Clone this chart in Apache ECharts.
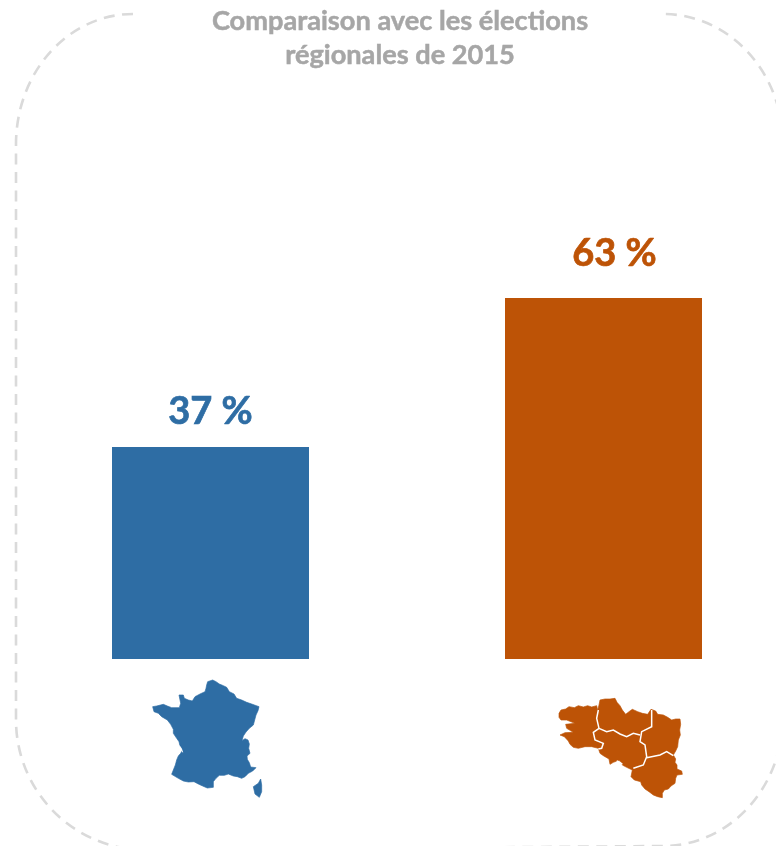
<!DOCTYPE html>
<html>
<head>
<meta charset="utf-8">
<style>html,body{margin:0;padding:0;background:#fff}#c{width:776px;height:846px}</style>
<script src="https://cdn.jsdelivr.net/npm/echarts@6/dist/echarts.min.js"></script>
</head>
<body>
<div id="c"></div>
<script>
const categories = ['France', 'Bretagne'];
const values = [37, 63];
const barColors = ['#2E6DA4', '#BD5306'];
const labelOffsets = [[0, 0], [11, -9]];
const titleText = 'Comparaison avec les élections\nrégionales de 2015';

const francePath = 'M230 45L233 35L248 30L258 35L268 42L280 47L290 52L298 65L312 72L320 85L335 90L350 97L365 102L387 110L384 122L378 135L374 150L370 165L358 175L348 186L340 198L336 212L345 206L354 210L358 222L356 235L360 250L351 258L352 268L358 278L362 291L378 293L368 303L355 310L345 320L335 325L322 320L310 318L295 312L283 316L268 316L258 325L250 335L250 352L232 354L218 348L205 342L192 335L175 336L160 333L145 325L125 313L130 300L136 285L140 270L145 258L152 250L158 240L150 228L147 215L140 205L130 190L130 178L122 163L112 150L95 140L85 130L72 125L68 110L80 108L100 103L112 108L125 113L148 113L152 100L147 75L160 75L163 85L175 90L187 93L195 80L210 72L225 65L228 55Z M392 327L395 345L395 365L388 382L375 372L370 350L385 340Z';
const girondePath = 'M147 226L153 234L158 247';
const bretagnePath = 'M42 85L48 75L62 72L72 65L88 68L100 62L115 66L128 62L140 66L155 62L158 76L162 60L165 45L180 42L195 42L210 40L216 52L225 62L232 75L242 88L252 80L262 73L278 80L292 85L308 88L318 73L332 78L338 88L355 90L368 97L380 105L392 102L405 102L407 118L404 135L406 150L400 165L398 185L392 198L385 210L392 222L390 232L396 240L396 252L410 258L412 268L396 270L392 280L390 295L378 303L370 312L358 315L352 325L352 338L338 335L325 330L312 320L300 312L290 300L287 290L268 285L258 275L262 255L245 247L232 240L222 226L205 232L195 238L192 222L175 212L165 205L160 190L140 185L120 185L100 190L85 187L75 178L70 168L58 155L45 150L60 143L85 142L65 130L62 118L90 115L65 105L48 105L42 97Z';
const bretagneBorders = 'M160 75L155 100L162 130L145 142L150 165L175 175L170 190L160 192 M162 130L185 140L205 135L225 147L245 155L265 145L285 150 M320 75L320 125L290 140L285 170L300 180L305 215L295 240L265 250 M305 218L345 210L365 200L385 212 M215 228L225 232L232 238';
const framePath = 'M133 14A117 130 0 0 0 16 144L16 720A130 130 0 0 0 146 850L663 846A120 130 0 0 0 783 716L783 144A120 130 0 0 0 663 14';

function iconPath(pathData, x, y, style) {
  return {type: 'path', silent: true, x: x, y: y, scaleX: 1/3, scaleY: 1/3,
    shape: {pathData: pathData}, style: style};
}

const chart = echarts.init(document.getElementById('c'), null, {renderer: 'canvas'});
chart.setOption({
  animation: false,
  backgroundColor: '#fff',
  title: {
    text: titleText,
    left: 395,
    top: -1,
    textAlign: 'center',
    textStyle: {fontFamily: 'Lato', fontWeight: 'bold', fontSize: 27.2, lineHeight: 34, color: '#A6A6A6',
      textBorderColor: '#A6A6A6', textBorderWidth: 0.5}
  },
  grid: {left: 210.5, top: 86, width: 393, height: 573},
  xAxis: {type: 'category', data: categories, show: false, boundaryGap: false},
  yAxis: {type: 'value', min: 0, max: 100, show: false},
  series: [{
    type: 'bar',
    clip: false,
    data: values.map((v, i) => ({value: v, itemStyle: {color: barColors[i]},
      label: {color: barColors[i], textBorderColor: barColors[i], textBorderWidth: 0.7, offset: labelOffsets[i]}})),
    barWidth: 197,
    label: {
      show: true,
      position: 'top',
      distance: 16,
      formatter: '{c} %',
      fontFamily: 'Lato',
      fontWeight: 'bold',
      fontSize: 38
    }
  }, {
    type: 'custom',
    silent: true,
    clip: false,
    data: [0],
    renderItem: function () {
      return {type: 'group', children: [
        {type: 'path', silent: true, shape: {pathData: framePath},
         style: {fill: 'none', stroke: '#DADADA', lineWidth: 2.6, lineDash: [11, 7.5]}},
        iconPath(francePath, 130, 670, {fill: barColors[0], stroke: barColors[0], lineWidth: 2}),
        iconPath(girondePath, 130, 670, {fill: 'none', stroke: '#fff', lineWidth: 3}),
        iconPath(bretagnePath, 545, 685, {fill: barColors[1], stroke: barColors[1], lineWidth: 2}),
        iconPath(bretagneBorders, 545, 685, {fill: 'none', stroke: '#fff', lineWidth: 4.5})
      ]};
    }
  }]
});
</script>
</body>
</html>
